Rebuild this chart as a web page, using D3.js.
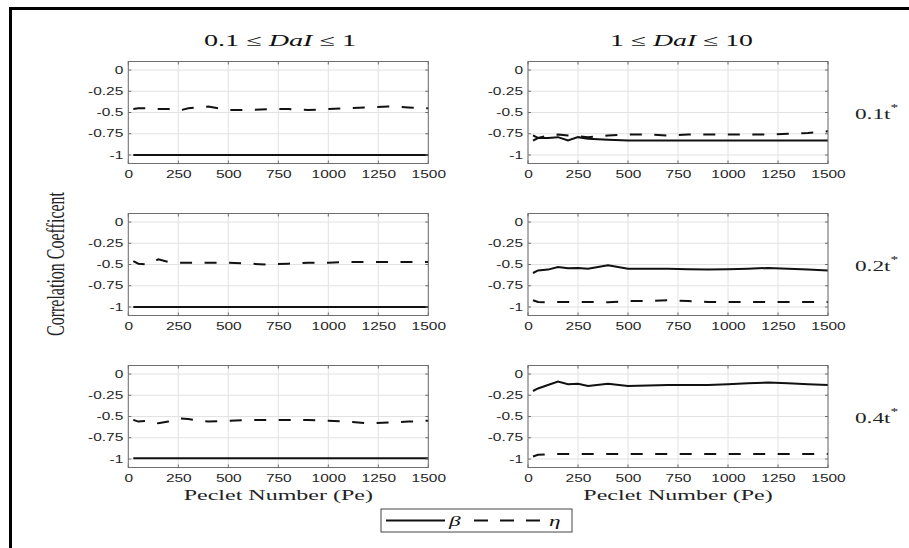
<!DOCTYPE html>
<html>
<head>
<meta charset="UTF-8">
<title>Correlation Coefficent</title>
<script src="https://d3js.org/d3.v7.min.js"></script>
<style>
  body { margin: 0; background: #fff; }
  svg { display: block; }
</style>
</head>
<body>
<svg width="909" height="548"></svg>
<script>
// Peclet numbers of the runs
var peclet = [25, 50, 100, 150, 200, 250, 300, 400, 500, 600, 700, 800, 900, 1000, 1100, 1200, 1300, 1400, 1500];
var xTicks = [0, 250, 500, 750, 1000, 1250, 1500];
var yTicks = [0, -0.25, -0.5, -0.75, -1];
var colTitles = [["0.1", "1"], ["1", "10"]];
var rowLabels = ["0.1", "0.2", "0.4"];

// left column: 0.1 <= DaI <= 1
var betaLeft01 = [-1, -1, -1, -1, -1, -1, -1, -1, -1, -1, -1, -1, -1, -1, -1, -1, -1, -1, -1];
var etaLeft01  = [-0.46, -0.45, -0.45, -0.46, -0.46, -0.48, -0.45, -0.43, -0.47, -0.47, -0.46, -0.46, -0.47, -0.46, -0.45, -0.44, -0.43, -0.44, -0.45];
var betaLeft02 = [-1, -1, -1, -1, -1, -1, -1, -1, -1, -1, -1, -1, -1, -1, -1, -1, -1, -1, -1];
var etaLeft02  = [-0.46, -0.49, -0.50, -0.44, -0.47, -0.48, -0.48, -0.48, -0.48, -0.49, -0.50, -0.49, -0.48, -0.48, -0.47, -0.47, -0.47, -0.47, -0.47];
var betaLeft04 = [-0.99, -0.99, -0.99, -0.99, -0.99, -0.99, -0.99, -0.99, -0.99, -0.99, -0.99, -0.99, -0.99, -0.99, -0.99, -0.99, -0.99, -0.99, -0.99];
var etaLeft04  = [-0.54, -0.56, -0.55, -0.58, -0.56, -0.52, -0.53, -0.56, -0.55, -0.54, -0.54, -0.54, -0.54, -0.55, -0.56, -0.58, -0.57, -0.56, -0.55];

// right column: 1 <= DaI <= 10
var betaRight01 = [-0.83, -0.80, -0.80, -0.79, -0.83, -0.79, -0.81, -0.82, -0.83, -0.83, -0.83, -0.83, -0.83, -0.83, -0.83, -0.83, -0.83, -0.83, -0.83];
var etaRight01  = [-0.77, -0.80, -0.77, -0.76, -0.77, -0.78, -0.79, -0.77, -0.76, -0.76, -0.77, -0.76, -0.76, -0.76, -0.76, -0.76, -0.75, -0.74, -0.72];
var betaRight02 = [-0.60, -0.57, -0.56, -0.53, -0.545, -0.54, -0.55, -0.51, -0.55, -0.55, -0.55, -0.555, -0.56, -0.555, -0.55, -0.54, -0.55, -0.56, -0.57];
var etaRight02  = [-0.92, -0.94, -0.945, -0.94, -0.94, -0.94, -0.94, -0.945, -0.93, -0.93, -0.92, -0.93, -0.94, -0.94, -0.94, -0.94, -0.94, -0.94, -0.94];
var betaRight04 = [-0.20, -0.17, -0.13, -0.09, -0.12, -0.115, -0.14, -0.115, -0.14, -0.135, -0.13, -0.13, -0.13, -0.12, -0.11, -0.10, -0.11, -0.12, -0.13];
var etaRight04  = [-0.97, -0.95, -0.945, -0.94, -0.94, -0.94, -0.94, -0.94, -0.94, -0.94, -0.94, -0.94, -0.94, -0.94, -0.94, -0.94, -0.94, -0.94, -0.94];

var panels = [
    { col: 0, row: 0, beta: betaLeft01, eta: etaLeft01 },
    { col: 1, row: 0, beta: betaRight01, eta: etaRight01 },
    { col: 0, row: 1, beta: betaLeft02, eta: etaLeft02 },
    { col: 1, row: 1, beta: betaRight02, eta: etaRight02 },
    { col: 0, row: 2, beta: betaLeft04, eta: etaLeft04 },
    { col: 1, row: 2, beta: betaRight04, eta: etaRight04 }
];

var SX = 1.55;             // the figure is stretched sideways
var W = 300, H = 102;
var colLeft = [128.3, 528];
var rowTop = [61.5, 213.5, 365.5];
var serif = "'Liberation Serif', 'Times New Roman', serif";
var sans = "'Liberation Sans', Arial, sans-serif";

var svg = d3.select("svg");

// frame (only top and left edges show)
svg.append("line").attr("x1", 9).attr("x2", 909).attr("y1", 8.5).attr("y2", 8.5)
    .attr("stroke", "#000").attr("stroke-width", 3);
svg.append("line").attr("x1", 10.5).attr("x2", 10.5).attr("y1", 7).attr("y2", 548)
    .attr("stroke", "#000").attr("stroke-width", 3);

function stretchText(sel, x, y) {
    return sel.attr("transform", "translate(" + x + "," + y + ") scale(" + SX + ",1)");
}

function stretchAxis(axisG) {
    axisG.selectAll("text").each(function () {
        var t = d3.select(this);
        t.attr("x", (+t.attr("x") || 0) / SX).attr("transform", "scale(" + SX + ",1)");
    });
}

var line = function (x, y) {
    return d3.line().x(function (d) { return x(d[0]); }).y(function (d) { return y(d[1]); });
};

panels.forEach(function (p) {
    var g = svg.append("g").attr("transform", "translate(" + colLeft[p.col] + "," + rowTop[p.row] + ")");
    var x = d3.scaleLinear().domain([0, 1500]).range([0, W]);
    var y = d3.scaleLinear().domain([-1.1, 0.1]).range([H, 0]);

    // grid
    g.selectAll(".gx").data(xTicks).enter().append("line")
        .attr("x1", x).attr("x2", x).attr("y1", 0).attr("y2", H)
        .attr("stroke", "#e2e2e2").attr("stroke-width", 1);
    g.selectAll(".gy").data(yTicks).enter().append("line")
        .attr("x1", 0).attr("x2", W).attr("y1", y).attr("y2", y)
        .attr("stroke", "#e2e2e2").attr("stroke-width", 1);

    // series
    var lf = line(x, y);
    g.append("path").datum(d3.zip(peclet, p.eta)).attr("d", lf)
        .attr("fill", "none").attr("stroke", "#111").attr("stroke-width", 2)
        .attr("stroke-dasharray", "12,12.5");
    g.append("path").datum(d3.zip(peclet, p.beta)).attr("d", lf)
        .attr("fill", "none").attr("stroke", "#111").attr("stroke-width", 2);

    // box and inner ticks
    g.append("rect").attr("width", W).attr("height", H)
        .attr("fill", "none").attr("stroke", "#6e6e6e").attr("stroke-width", 1);
    xTicks.forEach(function (t) {
        g.append("line").attr("x1", x(t)).attr("x2", x(t)).attr("y1", H).attr("y2", H - 3).attr("stroke", "#6e6e6e");
        g.append("line").attr("x1", x(t)).attr("x2", x(t)).attr("y1", 0).attr("y2", 3).attr("stroke", "#6e6e6e");
    });
    yTicks.forEach(function (t) {
        g.append("line").attr("x1", 0).attr("x2", 3).attr("y1", y(t)).attr("y2", y(t)).attr("stroke", "#6e6e6e");
        g.append("line").attr("x1", W).attr("x2", W - 3).attr("y1", y(t)).attr("y2", y(t)).attr("stroke", "#6e6e6e");
    });

    // tick labels
    var ay = g.append("g").call(d3.axisLeft(y).tickValues(yTicks).tickSize(0).tickPadding(5)
        .tickFormat(function (d) { return String(d); }));
    var ax = g.append("g").attr("transform", "translate(0," + H + ")")
        .call(d3.axisBottom(x).tickValues(xTicks).tickSize(0).tickPadding(7)
        .tickFormat(function (d) { return String(d); }));
    [ay, ax].forEach(function (a) {
        a.select(".domain").remove();
        a.attr("font-family", sans).attr("font-size", 10);
        a.selectAll("text").attr("fill", "#262626");
        stretchAxis(a);
    });

    if (p.row === 2) {
        stretchText(svg.append("text"), colLeft[p.col] + W / 2, 500)
            .attr("text-anchor", "middle").attr("font-family", serif).attr("font-size", 15.5)
            .attr("fill", "#222").text("Peclet Number (Pe)");
    }
});

// column titles
colTitles.forEach(function (c, i) {
    var t = svg.append("text")
        .attr("x", [280, 681.5][i]).attr("y", 45.5)
        .attr("text-anchor", "middle").attr("font-family", serif).attr("font-size", 16)
        .attr("fill", "#111")
        .attr("textLength", [152, 143][i]).attr("lengthAdjust", "spacingAndGlyphs");
    t.append("tspan").text(c[0] + " \u2264 ");
    t.append("tspan").attr("font-style", "italic").text("DaI");
    t.append("tspan").text(" \u2264 " + c[1]);
});

// row labels
rowLabels.forEach(function (r, i) {
    var t = stretchText(svg.append("text"), 855, rowTop[i] + 57)
        .attr("font-family", serif).attr("font-size", 15).attr("fill", "#222");
    t.append("tspan").text(r + "t");
    t.append("tspan").attr("font-size", 10).attr("dy", -8).text("*");
});

// y axis label
svg.append("text")
    .attr("transform", "translate(64,264) scale(" + SX + ",1) rotate(-90)")
    .attr("text-anchor", "middle").attr("font-family", serif).attr("font-size", 16)
    .attr("fill", "#222").text("Correlation Coefficent");

// legend
var lg = svg.append("g");
lg.append("rect").attr("x", 381).attr("y", 509).attr("width", 191).attr("height", 23)
    .attr("fill", "#fff").attr("stroke", "#444").attr("stroke-width", 1);
lg.append("line").attr("x1", 386).attr("x2", 445).attr("y1", 520.5).attr("y2", 520.5)
    .attr("stroke", "#111").attr("stroke-width", 2);
stretchText(lg.append("text"), 449, 526).attr("font-family", serif).attr("font-style", "italic")
    .attr("font-size", 15).attr("fill", "#111").text("\u03B2");
lg.append("line").attr("x1", 474).attr("x2", 540).attr("y1", 520.5).attr("y2", 520.5)
    .attr("stroke", "#111").attr("stroke-width", 2).attr("stroke-dasharray", "14,12");
stretchText(lg.append("text"), 549, 526).attr("font-family", serif).attr("font-style", "italic")
    .attr("font-size", 15).attr("fill", "#111").text("\u03B7");
</script>
</body>
</html>
